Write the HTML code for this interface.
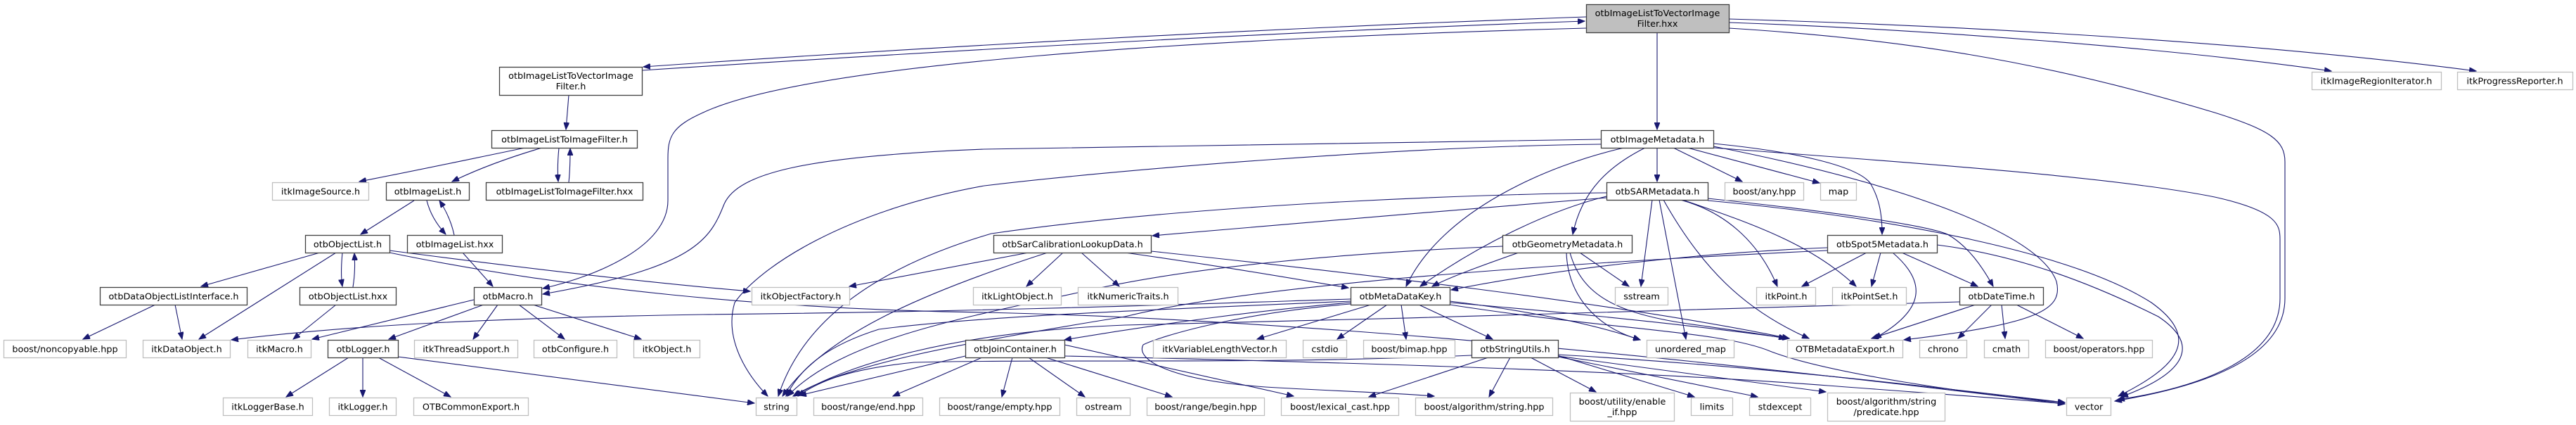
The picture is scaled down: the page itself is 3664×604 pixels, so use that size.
<!DOCTYPE html>
<html>
<head>
<meta charset="utf-8">
<style>
html,body{margin:0;padding:0;background:#fff;}
svg{display:block;}
text{font-family:"DejaVu Sans","Liberation Sans",sans-serif;font-size:12.8px;fill:#000;text-anchor:middle;}
.g{fill:#fff;stroke:#bfbfbf;stroke-width:1.3;}
.b{fill:#fff;stroke:#404040;stroke-width:1.3;}
.t{fill:#bfbfbf;stroke:#404040;stroke-width:1.3;}
.e{fill:none;stroke:#191970;stroke-width:1.1;marker-end:url(#a);}
</style>
</head>
<body>
<svg width="3664" height="604" viewBox="0 0 3664 604" xmlns="http://www.w3.org/2000/svg">
<defs>
<marker id="a" markerWidth="11" markerHeight="8" refX="10" refY="4" orient="auto" markerUnits="userSpaceOnUse">
<path d="M0,0 L10,4 L0,8 z" fill="#191970" stroke="#191970" stroke-width="1"/>
</marker>
</defs>

<!-- ================= EDGES ================= -->
<g>
<!-- top node -->
<path class="e" d="M2256,24 C1800,40 1300,68 915,95"/>
<path class="e" d="M913,100 C1300,75 1800,46 2254,30"/>
<path class="e" d="M2256,40 C1700,55 1150,90 1000,160 C955,180 950,195 950,225 L950,285 C950,350 850,392 772,410"/>
<path class="e" d="M2357,46 L2357,184"/>
<path class="e" d="M2459,32 C2750,42 3100,70 3316,101"/>
<path class="e" d="M2459,27 C2850,38 3250,65 3522,101"/>
<path class="e" d="M2459,40 C2700,55 2900,85 3150,160 C3230,185 3250,200 3250,230 L3250,424 C3250,520 3100,555 3008,570"/>

<!-- otbImageMetadata.h -->
<path class="e" d="M2357,210 L2357,258"/>
<path class="e" d="M2380,210 L2478,258"/>
<path class="e" d="M2400,210 L2588,260"/>
<path class="e" d="M2340,210 C2290,235 2250,270 2237,333"/>
<path class="e" d="M2437,204 C2550,215 2640,235 2660,260 C2675,285 2677,310 2677,333"/>
<path class="e" d="M2310,210 C2200,235 2050,300 2000,407"/>
<path class="e" d="M2277,198 L1400,212 C1150,222 1050,245 1030,290 C1010,340 990,380 772,418"/>
<path class="e" d="M2277,205 C2000,208 1600,240 1400,264 C1200,300 1080,380 1045,430 C1030,480 1060,530 1092,563"/>
<path class="e" d="M2437,210 C2700,230 3000,250 3150,280 C3240,300 3243,320 3243,340 L3243,424 C3243,520 3100,555 3012,568"/>
<path class="e" d="M2437,208 C2700,260 2900,330 2925,400 C2935,440 2900,460 2708,483"/>

<!-- otbSARMetadata.h -->
<path class="e" d="M2350,284 L2334,407"/>
<path class="e" d="M2360,284 L2398,482"/>
<path class="e" d="M2366,284 C2420,380 2480,440 2573,481"/>
<path class="e" d="M2390,284 C2450,300 2500,340 2528,407"/>
<path class="e" d="M2393,284 C2500,320 2580,350 2640,407"/>
<path class="e" d="M2429,282 C2600,300 2740,320 2770,333 C2800,350 2820,380 2835,407"/>
<path class="e" d="M2429,285 C2700,310 2950,360 3060,430 C3130,480 3100,520 3013,563"/>
<path class="e" d="M2285,281 C2100,295 1800,322 1639,335"/>
<path class="e" d="M2285,274 C2100,276 1700,290 1410,332 C1240,382 1140,460 1107,563"/>
<path class="e" d="M2285,279 C2200,300 2100,350 2020,407"/>

<!-- otbGeometryMetadata.h -->
<path class="e" d="M2160,359 C2100,380 2060,395 2037,407"/>
<path class="e" d="M2247,359 L2317,407"/>
<path class="e" d="M2228,359 C2230,420 2270,465 2333,483"/>
<path class="e" d="M2233,359 C2250,420 2300,445 2400,460 C2470,470 2510,475 2540,481"/>
<path class="e" d="M2137,350 C1900,360 1700,380 1560,410 C1380,450 1200,480 1120,563"/>

<!-- otbSpot5Metadata.h -->
<path class="e" d="M2655,359 L2563,407"/>
<path class="e" d="M2675,359 L2662,407"/>
<path class="e" d="M2692,359 C2740,400 2740,440 2666,481"/>
<path class="e" d="M2705,359 L2813,407"/>
<path class="e" d="M2755,348 C2850,360 2950,390 3070,450 C3130,490 3110,530 3017,564"/>
<path class="e" d="M2599,352 C2400,360 2200,385 2064,412"/>
<path class="e" d="M2599,356 C2300,370 1800,400 1600,450 C1350,490 1200,520 1128,563"/>

<!-- otbDateTime.h -->
<path class="e" d="M2810,433 L2662,481"/>
<path class="e" d="M2833,433 L2785,481"/>
<path class="e" d="M2847,433 L2852,481"/>
<path class="e" d="M2868,433 L2963,481"/>
<path class="e" d="M2787,429 C2500,440 2000,452 1600,462 C1350,472 1200,520 1130,563"/>

<!-- otbMetaDataKey.h -->
<path class="e" d="M1950,433 L1788,482"/>
<path class="e" d="M1973,433 L1902,482"/>
<path class="e" d="M1993,433 L2000,482"/>
<path class="e" d="M2018,433 L2123,482"/>
<path class="e" d="M1921,425 C1700,432 1400,443 1000,447 C700,452 500,462 329,483"/>
<path class="e" d="M1921,428 C1700,438 1400,448 1250,468 C1180,490 1140,520 1118,563"/>
<path class="e" d="M1921,430 C1800,440 1650,460 1514,483"/>
<path class="e" d="M1921,432 C1760,445 1650,478 1626,490 C1615,510 1660,540 1800,550 C1900,556 1980,558 2040,563"/>
<path class="e" d="M2062,428 C2200,445 2280,465 2333,483"/>
<path class="e" d="M2062,430 C2300,450 2450,468 2545,481"/>
<path class="e" d="M2062,433 C2300,470 2450,470 2520,500 C2600,530 2800,560 2937,572"/>

<!-- otbStringUtils.h -->
<path class="e" d="M2117,508 L1947,564"/>
<path class="e" d="M2148,508 L2118,564"/>
<path class="e" d="M2177,508 L2270,557"/>
<path class="e" d="M2215,505 L2410,564"/>
<path class="e" d="M2216,507 L2500,564"/>
<path class="e" d="M2216,506 C2400,530 2500,545 2597,557"/>
<path class="e" d="M2216,504 C2500,520 2750,550 2937,572"/>
<path class="e" d="M2093,505 C1800,518 1500,510 1300,515 C1200,525 1160,545 1135,563"/>

<!-- otbJoinContainer.h -->
<path class="e" d="M1373,506 L1137,562"/>
<path class="e" d="M1397,508 L1270,563"/>
<path class="e" d="M1440,508 L1425,564"/>
<path class="e" d="M1463,508 L1543,564"/>
<path class="e" d="M1487,508 L1667,564"/>
<path class="e" d="M1514,490 L1840,563"/>
<path class="e" d="M1514,506 C1800,512 2300,525 2600,548 C2800,563 2900,570 2937,574"/>

<!-- otbSarCalibrationLookupData.h -->
<path class="e" d="M1463,359 C1350,380 1260,398 1208,407"/>
<path class="e" d="M1512,359 L1460,407"/>
<path class="e" d="M1538,359 L1592,407"/>
<path class="e" d="M1600,359 C1750,380 1850,398 1918,409"/>
<path class="e" d="M1490,359 C1300,420 1170,480 1113,563"/>
<path class="e" d="M1637,357 C1900,385 2300,430 2545,481"/>

<!-- left part -->
<path class="e" d="M809,135 L805,184"/>
<path class="e" d="M747,210 C650,230 580,245 511,258"/>
<path class="e" d="M771,210 C720,225 680,240 643,258"/>
<path class="e" d="M795,210 C793,230 793,245 794,258"/>
<path class="e" d="M809,259 C811,240 811,225 811,211"/>
<path class="e" d="M589,285 L513,333"/>
<path class="e" d="M607,285 C612,305 622,320 634,333"/>
<path class="e" d="M646,334 C642,315 635,300 625,285"/>
<path class="e" d="M658,359 L701,407"/>
<path class="e" d="M455,359 L286,407"/>
<path class="e" d="M478,359 L283,482"/>
<path class="e" d="M487,359 C485,380 485,395 487,407"/>
<path class="e" d="M502,408 C505,390 505,375 504,360"/>
<path class="e" d="M554,356 C700,375 900,400 1067,414"/>
<path class="e" d="M554,359 C800,410 1100,440 1400,444 C1900,455 2500,520 2937,574"/>
<path class="e" d="M221,433 L118,482"/>
<path class="e" d="M249,433 L259,482"/>
<path class="e" d="M478,433 L417,482"/>
<path class="e" d="M674,426 L444,482"/>
<path class="e" d="M688,433 L553,482"/>
<path class="e" d="M708,433 L673,482"/>
<path class="e" d="M738,433 L803,482"/>
<path class="e" d="M758,433 L912,482"/>
<path class="e" d="M496,508 L407,564"/>
<path class="e" d="M516,508 L516,564"/>
<path class="e" d="M538,508 L641,564"/>
<path class="e" d="M566,507 L1073,573"/>
</g>

<!-- ================= NODES ================= -->
<!-- R0 -->
<rect class="t" x="2256.5" y="6.5" width="203" height="40"/>
<text x="2357.5" y="23">otbImageListToVectorImage</text>
<text x="2357.5" y="38">Filter.hxx</text>

<!-- R1 -->
<rect class="b" x="710.5" y="95.5" width="203" height="40"/>
<text x="812" y="112">otbImageListToVectorImage</text>
<text x="812" y="127">Filter.h</text>
<rect class="g" x="3288.5" y="102.5" width="184" height="25"/><text x="3380" y="119.5">itkImageRegionIterator.h</text>
<rect class="g" x="3495.5" y="102.5" width="164" height="25"/><text x="3577" y="119.5">itkProgressReporter.h</text>

<!-- R2 -->
<rect class="b" x="699.5" y="185.5" width="207" height="25"/><text x="803" y="202.5">otbImageListToImageFilter.h</text>
<rect class="b" x="2277.5" y="185.5" width="160" height="25"/><text x="2357.5" y="202.5">otbImageMetadata.h</text>

<!-- R3 -->
<rect class="g" x="387.5" y="259.5" width="137" height="25"/><text x="456" y="276.5">itkImageSource.h</text>
<rect class="b" x="549.5" y="259.5" width="118" height="25"/><text x="608.5" y="276.5">otbImageList.h</text>
<rect class="b" x="691.5" y="259.5" width="223" height="25"/><text x="803" y="276.5">otbImageListToImageFilter.hxx</text>
<rect class="b" x="2285.5" y="259.5" width="144" height="25"/><text x="2357.5" y="276.5">otbSARMetadata.h</text>
<rect class="g" x="2453.5" y="259.5" width="112" height="25"/><text x="2509.5" y="276.5">boost/any.hpp</text>
<rect class="g" x="2589.5" y="259.5" width="51" height="25"/><text x="2615" y="276.5">map</text>

<!-- R4 -->
<rect class="b" x="434.5" y="334.5" width="120" height="25"/><text x="494.5" y="351.5">otbObjectList.h</text>
<rect class="b" x="579.5" y="334.5" width="135" height="25"/><text x="647" y="351.5">otbImageList.hxx</text>
<rect class="b" x="1413.5" y="334.5" width="224" height="25"/><text x="1525.5" y="351.5">otbSarCalibrationLookupData.h</text>
<rect class="b" x="2137.5" y="334.5" width="184" height="25"/><text x="2229.5" y="351.5">otbGeometryMetadata.h</text>
<rect class="b" x="2599.5" y="334.5" width="156" height="25"/><text x="2677.5" y="351.5">otbSpot5Metadata.h</text>

<!-- R5 -->
<rect class="b" x="142.5" y="408.5" width="209" height="25"/><text x="247" y="425.5">otbDataObjectListInterface.h</text>
<rect class="b" x="426.5" y="408.5" width="137" height="25"/><text x="495" y="425.5">otbObjectList.hxx</text>
<rect class="b" x="674.5" y="408.5" width="96" height="25"/><text x="722.5" y="425.5">otbMacro.h</text>
<rect class="g" x="1069.5" y="408.5" width="139" height="25"/><text x="1139" y="425.5">itkObjectFactory.h</text>
<rect class="g" x="1384.5" y="408.5" width="125" height="25"/><text x="1447" y="425.5">itkLightObject.h</text>
<rect class="g" x="1533.5" y="408.5" width="142" height="25"/><text x="1604.5" y="425.5">itkNumericTraits.h</text>
<rect class="b" x="1921.5" y="408.5" width="141" height="25"/><text x="1992" y="425.5">otbMetaDataKey.h</text>
<rect class="g" x="2297.5" y="408.5" width="75" height="25"/><text x="2335" y="425.5">sstream</text>
<rect class="g" x="2498.5" y="408.5" width="84" height="25"/><text x="2540.5" y="425.5">itkPoint.h</text>
<rect class="g" x="2606.5" y="408.5" width="105" height="25"/><text x="2659" y="425.5">itkPointSet.h</text>
<rect class="b" x="2787.5" y="408.5" width="119" height="25"/><text x="2847" y="425.5">otbDateTime.h</text>

<!-- R6 -->
<rect class="g" x="5.5" y="483.5" width="174" height="25"/><text x="92.5" y="500.5">boost/noncopyable.hpp</text>
<rect class="g" x="203.5" y="483.5" width="124" height="25"/><text x="265.5" y="500.5">itkDataObject.h</text>
<rect class="g" x="352.5" y="483.5" width="90" height="25"/><text x="397.5" y="500.5">itkMacro.h</text>
<rect class="b" x="466.5" y="483.5" width="100" height="25"/><text x="516.5" y="500.5">otbLogger.h</text>
<rect class="g" x="589.5" y="483.5" width="147" height="25"/><text x="663" y="500.5">itkThreadSupport.h</text>
<rect class="g" x="759.5" y="483.5" width="118" height="25"/><text x="818.5" y="500.5">otbConfigure.h</text>
<rect class="g" x="901.5" y="483.5" width="94" height="25"/><text x="948.5" y="500.5">itkObject.h</text>
<rect class="b" x="1373.5" y="483.5" width="141" height="25"/><text x="1444" y="500.5">otbJoinContainer.h</text>
<rect class="g" x="1640.5" y="483.5" width="189" height="25"/><text x="1735" y="500.5">itkVariableLengthVector.h</text>
<rect class="g" x="1853.5" y="483.5" width="62" height="25"/><text x="1884.5" y="500.5">cstdio</text>
<rect class="g" x="1939.5" y="483.5" width="130" height="25"/><text x="2004.5" y="500.5">boost/bimap.hpp</text>
<rect class="b" x="2093.5" y="483.5" width="123" height="25"/><text x="2155" y="500.5">otbStringUtils.h</text>
<rect class="g" x="2342.5" y="483.5" width="124" height="25"/><text x="2404.5" y="500.5">unordered_map</text>
<rect class="g" x="2542.5" y="483.5" width="164" height="25"/><text x="2624.5" y="500.5">OTBMetadataExport.h</text>
<rect class="g" x="2730.5" y="483.5" width="67" height="25"/><text x="2764" y="500.5">chrono</text>
<rect class="g" x="2822.5" y="483.5" width="63" height="25"/><text x="2854" y="500.5">cmath</text>
<rect class="g" x="2909.5" y="483.5" width="152" height="25"/><text x="2985.5" y="500.5">boost/operators.hpp</text>

<!-- R7 -->
<rect class="g" x="317.5" y="565.5" width="127" height="25"/><text x="381" y="582.5">itkLoggerBase.h</text>
<rect class="g" x="468.5" y="565.5" width="95" height="25"/><text x="516" y="582.5">itkLogger.h</text>
<rect class="g" x="588.5" y="565.5" width="163" height="25"/><text x="670" y="582.5">OTBCommonExport.h</text>
<rect class="g" x="1075.5" y="565.5" width="58" height="25"/><text x="1104.5" y="582.5">string</text>
<rect class="g" x="1157.5" y="565.5" width="155" height="25"/><text x="1235" y="582.5">boost/range/end.hpp</text>
<rect class="g" x="1336.5" y="565.5" width="171" height="25"/><text x="1422" y="582.5">boost/range/empty.hpp</text>
<rect class="g" x="1531.5" y="565.5" width="76" height="25"/><text x="1569.5" y="582.5">ostream</text>
<rect class="g" x="1631.5" y="565.5" width="167" height="25"/><text x="1715" y="582.5">boost/range/begin.hpp</text>
<rect class="g" x="1822.5" y="565.5" width="167" height="25"/><text x="1906" y="582.5">boost/lexical_cast.hpp</text>
<rect class="g" x="2013.5" y="565.5" width="195" height="25"/><text x="2111" y="582.5">boost/algorithm/string.hpp</text>
<rect class="g" x="2233.5" y="558.5" width="148" height="40"/>
<text x="2307.5" y="575">boost/utility/enable</text>
<text x="2307.5" y="590">_if.hpp</text>
<rect class="g" x="2405.5" y="565.5" width="59" height="25"/><text x="2435" y="582.5">limits</text>
<rect class="g" x="2488.5" y="565.5" width="87" height="25"/><text x="2532" y="582.5">stdexcept</text>
<rect class="g" x="2599.5" y="558.5" width="167" height="40"/>
<text x="2683" y="575">boost/algorithm/string</text>
<text x="2683" y="590">/predicate.hpp</text>
<rect class="g" x="2939.5" y="565.5" width="63" height="25"/><text x="2971" y="582.5">vector</text>
</svg>
</body>
</html>
